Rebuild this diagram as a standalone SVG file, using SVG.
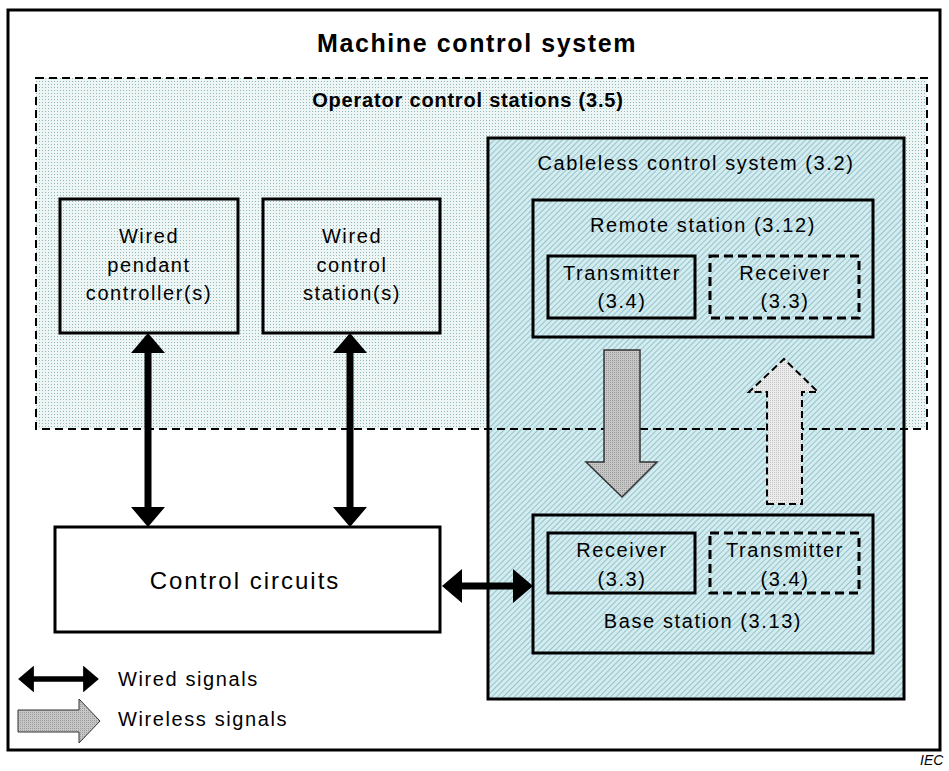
<svg xmlns="http://www.w3.org/2000/svg" width="949" height="771" viewBox="0 0 949 771">
  <style>
    .t { font-family: "Liberation Sans", Arial, sans-serif; font-size: 20px; letter-spacing: 1.6px; fill: #000; text-anchor: middle; }
    .title { font-weight: bold; font-size: 25px; letter-spacing: 1.6px; }
    .sub { font-weight: bold; font-size: 20px; letter-spacing: 0.8px; }
    .big { font-size: 24px; letter-spacing: 2px; }
    .left { text-anchor: start; }
    .box { stroke: #000; stroke-width: 3; }
    .dash { stroke-dasharray: 9 5; }
    .wire { stroke: #000; fill: none; marker-start: url(#head); marker-end: url(#head); }
  </style>
  <defs>
    <pattern id="dots" width="3" height="3" patternUnits="userSpaceOnUse">
      <rect width="3" height="3" fill="#eef5f5"/>
      <rect width="1" height="1" fill="#8fb8b8"/>
    </pattern>
    <pattern id="hatch" width="4" height="4" patternUnits="userSpaceOnUse" patternTransform="rotate(45)">
      <rect width="4" height="4" fill="#d2ecf0"/>
      <rect width="1" height="4" fill="#98c3ca"/>
    </pattern>
    <pattern id="grey" width="2" height="2" patternUnits="userSpaceOnUse">
      <rect width="2" height="2" fill="#c6c6c6"/>
      <rect width="1" height="1" fill="#9c9c9c"/>
    </pattern>
    <pattern id="lightgrey" width="2" height="2" patternUnits="userSpaceOnUse">
      <rect width="2" height="2" fill="#ececec"/>
      <rect width="1" height="1" fill="#c4c4c4"/>
    </pattern>
    <marker id="head" viewBox="0 0 20 34" refX="10" refY="17" markerWidth="2.857" markerHeight="4.857" markerUnits="strokeWidth" orient="auto-start-reverse">
      <path d="M0,0 L20,17 L0,34 Z" fill="#000"/>
    </marker>
  </defs>

  <rect width="949" height="771" fill="#fff"/>

  <!-- outer frame -->
  <g id="machine-control-system">
    <rect x="8" y="10" width="932" height="740" fill="#fff" class="box"/>
    <text class="t title" x="477" y="52">Machine control system</text>
  </g>

  <!-- operator stations area (fill only, outline drawn later) -->
  <g id="operator-control-stations">
    <rect x="36" y="78" width="891" height="351" fill="url(#dots)"/>
    <text class="t sub" x="468" y="107">Operator control stations (3.5)</text>
  </g>

  <!-- cableless control system -->
  <g id="cableless-control-system">
    <rect x="488" y="138" width="416" height="561" fill="url(#hatch)" class="box"/>
    <text class="t" x="696" y="170">Cableless control system (3.2)</text>
  </g>

  <!-- dashed outline of operator stations -->
  <rect x="36" y="78" width="891" height="351" fill="none" stroke="#000" stroke-width="2" stroke-dasharray="8 5"/>

  <g id="remote-station">
    <rect x="533" y="200" width="340" height="137" fill="url(#hatch)" class="box"/>
    <text class="t" x="703" y="232">Remote station (3.12)</text>
  </g>
  <g id="remote-transmitter">
    <rect x="548" y="256" width="147" height="62" fill="url(#hatch)" class="box"/>
    <text class="t" x="622" y="280">Transmitter</text>
    <text class="t" x="622" y="308">(3.4)</text>
  </g>
  <g id="remote-receiver">
    <rect x="710" y="256" width="149" height="62" fill="url(#hatch)" class="box dash"/>
    <text class="t" x="785" y="280">Receiver</text>
    <text class="t" x="785" y="308">(3.3)</text>
  </g>

  <g id="base-station">
    <rect x="533" y="515" width="340" height="138" fill="url(#hatch)" class="box"/>
    <text class="t" x="703" y="628">Base station (3.13)</text>
  </g>
  <g id="base-receiver">
    <rect x="548" y="533" width="147" height="60" fill="url(#hatch)" class="box"/>
    <text class="t" x="622" y="557">Receiver</text>
    <text class="t" x="622" y="586">(3.3)</text>
  </g>
  <g id="base-transmitter">
    <rect x="710" y="533" width="149" height="60" fill="url(#hatch)" class="box dash"/>
    <text class="t" x="785" y="557">Transmitter</text>
    <text class="t" x="785" y="586">(3.4)</text>
  </g>

  <g id="wired-pendant">
    <rect x="60" y="199" width="178" height="134" fill="none" class="box"/>
    <text class="t" x="149" y="243">Wired</text>
    <text class="t" x="149" y="272">pendant</text>
    <text class="t" x="149" y="300">controller(s)</text>
  </g>
  <g id="wired-control-station">
    <rect x="263" y="199" width="177" height="134" fill="none" class="box"/>
    <text class="t" x="352" y="243">Wired</text>
    <text class="t" x="352" y="272">control</text>
    <text class="t" x="352" y="300">station(s)</text>
  </g>

  <g id="control-circuits">
    <rect x="55" y="527" width="385" height="105" fill="#fff" class="box"/>
    <text class="t big" x="245" y="589">Control circuits</text>
  </g>

  <!-- connectors -->
  <g id="connectors">
    <line class="wire" x1="148" y1="343" x2="148" y2="517" stroke-width="7"/>
    <line class="wire" x1="350" y1="343" x2="350" y2="517" stroke-width="7"/>
    <line class="wire" x1="452" y1="586" x2="523" y2="586" stroke-width="7"/>
    <!-- wireless: remote to base -->
    <path d="M604,350 H640 V462 H657 L622,497 L586,462 H604 Z" fill="url(#grey)" stroke="#333" stroke-width="1.5"/>
    <!-- wireless: base to remote (optional) -->
    <path d="M767,504 H802 V392 H818 L784,359 L749,392 H767 Z" fill="url(#lightgrey)" stroke="#000" stroke-width="2" stroke-dasharray="7 4"/>
  </g>

  <!-- key -->
  <g id="legend">
    <line class="wire" x1="26" y1="679" x2="91" y2="679" stroke-width="5.5"/>
    <text class="t left" x="118" y="686">Wired signals</text>
    <path d="M18,710 H79 V699 L100,721 L79,743 V732 H18 Z" fill="url(#grey)" stroke="#333" stroke-width="1"/>
    <text class="t left" x="118" y="726">Wireless signals</text>
  </g>

  <text x="920" y="765" style="font-family: 'Liberation Sans', Arial, sans-serif; font-size: 14px; font-style: italic;">IEC</text>
</svg>
